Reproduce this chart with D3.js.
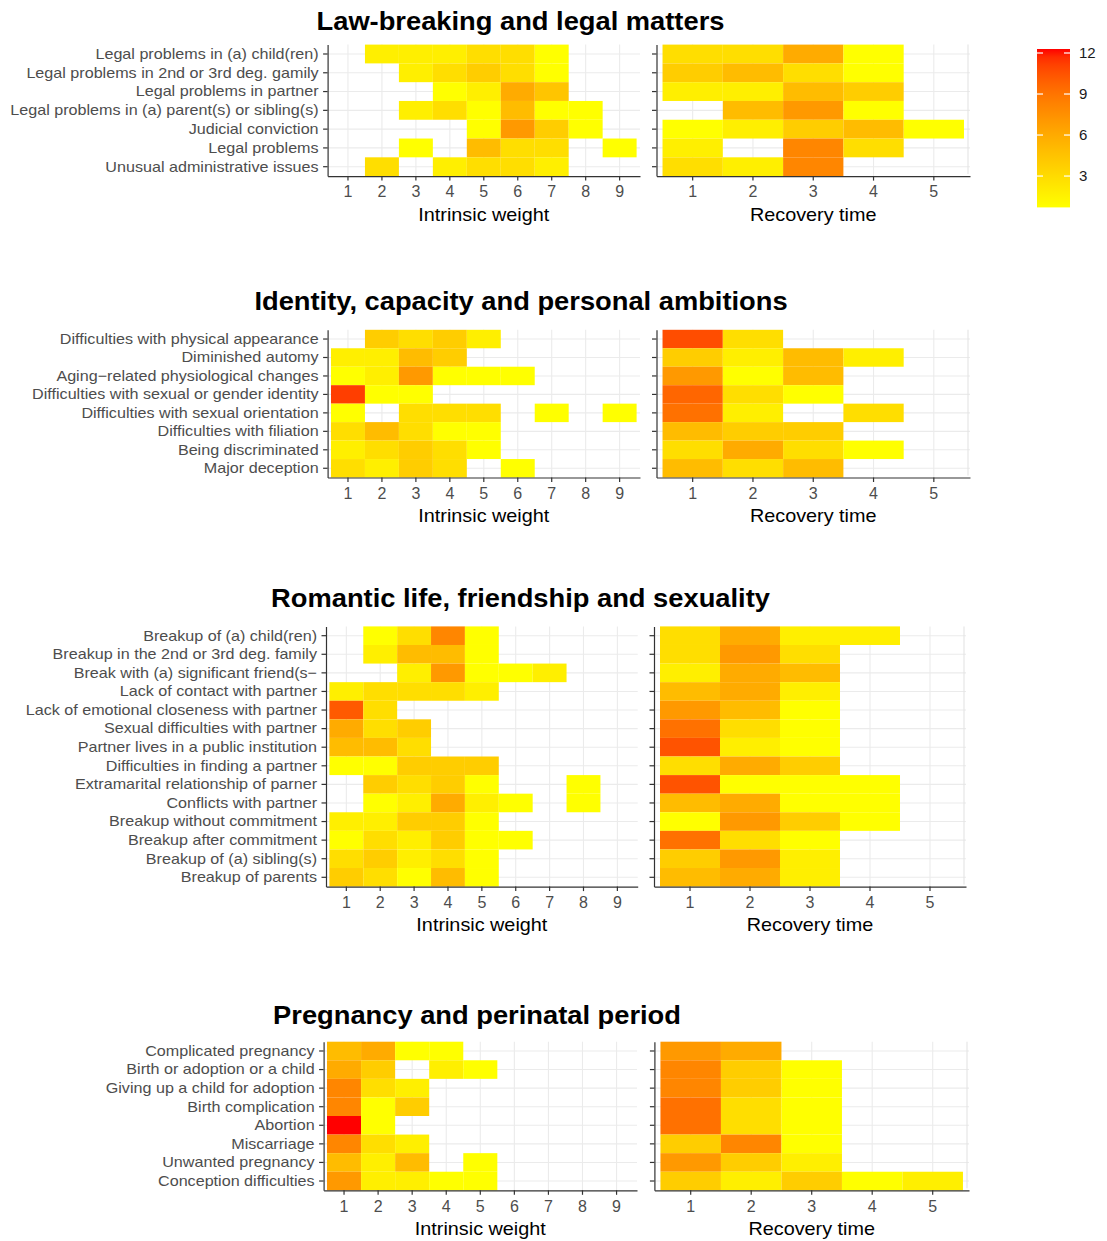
<!DOCTYPE html>
<html>
<head>
<meta charset="utf-8">
<script src="https://cdn.jsdelivr.net/npm/d3@7"></script>
<style>
  body { margin: 0; background: #fff; }
  svg { display: block; font-family: "Liberation Sans", Arial, Helvetica, sans-serif; }
</style>
</head>
<body>
<div id="chart"></div>
<script>
// tick labels
var intrinsicTicks = [1, 2, 3, 4, 5, 6, 7, 8, 9];
var recoveryTicks = [1, 2, 3, 4, 5];
var legendTicks = [3, 6, 9, 12];
var fillRange = [1, 12];

// Law-breaking and legal matters
var lawTitle = "Law-breaking and legal matters";
var lawLabels = [
  "Legal problems in (a) child(ren)",
  "Legal problems in 2nd or 3rd deg. gamily",
  "Legal problems in partner ",
  "Legal problems in (a) parent(s) or sibling(s) ",
  "Judicial conviction",
  "Legal problems",
  "Unusual administrative issues"
];
var lawIntrinsic = [
  [null, 2, 2, 2, 3, 3, 1, null, null],
  [null, null, 2, 3, 4, 3, 1, null, null],
  [null, null, null, 1, 2, 6, 4.5, null, null],
  [null, null, 2, 3, 1, 5, 1, 1, null],
  [null, null, null, null, 1, 7, 4, 1, null],
  [null, null, 1, null, 5, 3, 3, null, 1],
  [null, 3, null, 2, 3, 3, 2, null, null]
];
var lawRecovery = [
  [3, 3, 6, 1, null],
  [4, 5, 3, 1, null],
  [2, 2, 5, 4, null],
  [null, 5, 7, 1, null],
  [1, 2, 4, 5, 1],
  [2, null, 8, 3, null],
  [3, 2, 8, null, null]
];

// Identity, capacity and personal ambitions
var identityTitle = "Identity, capacity and personal ambitions";
var identityLabels = [
  "Difficulties with physical appearance",
  "Diminished automy ",
  "Aging\u2212related physiological changes",
  "Difficulties with sexual or gender identity",
  "Difficulties with sexual orientation",
  "Difficulties with filiation",
  "Being discriminated",
  "Major deception"
];
var identityIntrinsic = [
  [null, 4, 3, 4, 2, null, null, null, null],
  [2, 2, 5, 4, null, null, null, null, null],
  [1, 2, 7, 1, 1, 1, null, null, null],
  [11, 1, 1, null, null, null, null, null, null],
  [1, null, 3, 3, 3, null, 1, null, 1],
  [3, 5, 3, 1, 1, null, null, null, null],
  [2, 3, 4, 3, 1, null, null, null, null],
  [3, 2, 4, 3, null, 1, null, null, null]
];
var identityRecovery = [
  [10.5, 3, null, null, null],
  [4, 2, 5, 2, null],
  [7, 1, 5, null, null],
  [9.5, 3, 1, null, null],
  [9, 2, null, 3, null],
  [5, 4, 4, null, null],
  [3, 6, 3, 1, null],
  [5, 3, 5, null, null]
];

// Romantic life, friendship and sexuality
var romanticTitle = "Romantic life, friendship and sexuality";
var romanticLabels = [
  "Breakup of (a) child(ren)",
  "Breakup in the 2nd or 3rd deg. family",
  "Break with (a) significant friend(s\u2212",
  "Lack of contact with partner",
  "Lack of emotional closeness with partner",
  "Sexual difficulties with partner",
  "Partner lives in a public institution",
  "Difficulties in finding a partner",
  "Extramarital relationship of parner",
  "Conflicts with partner",
  "Breakup without commitment",
  "Breakup after commitment",
  "Breakup of (a) sibling(s)",
  "Breakup of parents"
];
var romanticIntrinsic = [
  [null, 1, 3, 8, 1, null, null, null, null],
  [null, 2, 5, 5, 1, null, null, null, null],
  [null, null, 2, 7, 1, 1, 2, null, null],
  [2, 3, 3, 3, 2, null, null, null, null],
  [10, 3, null, null, null, null, null, null, null],
  [6, 3, 4, null, null, null, null, null, null],
  [5, 5, 3, null, null, null, null, null, null],
  [1, 1, 4, 4, 4, null, null, null, null],
  [null, 4, 3, 4, 1, null, null, 1, null],
  [null, 1, 2, 6, 2, 1, null, 1, null],
  [2, 2, 4, 4, 1, null, null, null, null],
  [1, 3, 2, 4, 1, 1, null, null, null],
  [3, 4, 2, 3, 1, null, null, null, null],
  [4, 3, 1, 5, 1, null, null, null, null]
];
var romanticRecovery = [
  [3, 6, 2, 2, null],
  [3, 7, 3, null, null],
  [2, 6, 5, null, null],
  [5, 6, 2, null, null],
  [7, 5, 1, null, null],
  [9, 3, 1, null, null],
  [10.3, 2, 1, null, null],
  [3, 6, 4, null, null],
  [10.3, 1, 1, 1, null],
  [5, 6, 1, 1, null],
  [1, 7, 4, 1, null],
  [9, 3, 1, null, null],
  [4, 7, 2, null, null],
  [5, 6, 2, null, null]
];

// Pregnancy and perinatal period
var pregnancyTitle = "Pregnancy and perinatal period";
var pregnancyLabels = [
  "Complicated pregnancy",
  "Birth or adoption or a child",
  "Giving up a child for adoption",
  "Birth complication",
  "Abortion",
  "Miscarriage",
  "Unwanted pregnancy",
  "Conception difficulties"
];
var pregnancyIntrinsic = [
  [5, 6, 1, 1, null, null, null, null, null],
  [6, 4, null, 2, 1, null, null, null, null],
  [8, 3, 2, null, null, null, null, null, null],
  [8, 1, 4, null, null, null, null, null, null],
  [12, 1, null, null, null, null, null, null, null],
  [8, 3, 2, null, null, null, null, null, null],
  [5, 2, 5, null, 1, null, null, null, null],
  [7, 2, 2, 1, 1, null, null, null, null]
];
var pregnancyRecovery = [
  [7, 6, null, null, null],
  [8, 4, 1, null, null],
  [8, 4, 1, null, null],
  [9, 3, 1, null, null],
  [9, 3, 1, null, null],
  [4, 8, 1, null, null],
  [7, 4, 2, null, null],
  [4, 2, 4, 1, 2]
];

// layout of the four blocks (pixels)
var sections = [
  {title: lawTitle, labels: lawLabels, left: lawIntrinsic, right: lawRecovery,
   titleX: 520.5, titleY: 29.5, top: 44.6, bottom: 176.1,
   lx: [327.6, 640], rx: [656.5, 970]},
  {title: identityTitle, labels: identityLabels, left: identityIntrinsic, right: identityRecovery,
   titleX: 521, titleY: 310, top: 329.8, bottom: 477.5,
   lx: [327.6, 640], rx: [656.5, 970]},
  {title: romanticTitle, labels: romanticLabels, left: romanticIntrinsic, right: romanticRecovery,
   titleX: 520.5, titleY: 607, top: 626.4, bottom: 886.6,
   lx: [326, 637.7], rx: [654, 966]},
  {title: pregnancyTitle, labels: pregnancyLabels, left: pregnancyIntrinsic, right: pregnancyRecovery,
   titleX: 477, titleY: 1024, top: 1041.7, bottom: 1190.3,
   lx: [323.6, 637], rx: [654.4, 969]}
];

var width = 1107, height = 1241;

var color = d3.scaleLinear()
  .domain(fillRange)
  .range(["yellow", "red"])
  .interpolate(d3.interpolateLab);

var svg = d3.select("#chart").append("svg")
  .attr("width", width)
  .attr("height", height);

// the original fonts run a bit wider than Liberation Sans
function stretch(sel, k) {
  sel.each(function() {
    var len = this.getComputedTextLength();
    if (len > 0) {
      d3.select(this)
        .attr("textLength", len * k)
        .attr("lengthAdjust", "spacingAndGlyphs");
    }
  });
}

function drawPanel(g, s, values, ticks, xr, showLabels, axisTitle, edgeLine) {
  var y = d3.scaleBand().domain(s.labels).range([s.top, s.bottom]).padding(0);
  var x = d3.scaleBand().domain(ticks).range(xr).paddingInner(0).paddingOuter(0.1);

  // grid
  g.append("g").selectAll("line.h")
    .data(s.labels).enter().append("line")
    .attr("x1", xr[0]).attr("x2", xr[1])
    .attr("y1", function(d) { return y(d) + y.bandwidth() / 2; })
    .attr("y2", function(d) { return y(d) + y.bandwidth() / 2; })
    .attr("stroke", "#EBEBEB").attr("stroke-width", 1.1);
  g.append("g").selectAll("line.v")
    .data(ticks).enter().append("line")
    .attr("y1", s.top).attr("y2", s.bottom)
    .attr("x1", function(d) { return x(d) + x.bandwidth() / 2; })
    .attr("x2", function(d) { return x(d) + x.bandwidth() / 2; })
    .attr("stroke", "#EBEBEB").attr("stroke-width", 1.1);
  if (edgeLine) {
    g.append("line")
      .attr("x1", xr[1] - 2).attr("x2", xr[1] - 2)
      .attr("y1", s.top).attr("y2", s.bottom - 2)
      .attr("stroke", "#E3E3E3").attr("stroke-width", 1.1);
  }

  // tiles
  var cells = [];
  values.forEach(function(row, i) {
    row.forEach(function(v, j) {
      if (v != null) cells.push({row: s.labels[i], col: ticks[j], value: v});
    });
  });
  g.append("g").selectAll("rect")
    .data(cells).enter().append("rect")
    .attr("x", function(d) { return x(d.col); })
    .attr("y", function(d) { return y(d.row); })
    .attr("width", x.bandwidth())
    .attr("height", y.bandwidth())
    .attr("fill", function(d) { return color(d.value); });

  // axes
  var ya = g.append("g")
    .attr("transform", "translate(" + xr[0] + ",0)")
    .call(d3.axisLeft(y).tickSize(4.5).tickSizeOuter(0).tickPadding(4.5)
      .tickFormat(showLabels ? null : function() { return ""; }));
  ya.selectAll("text")
    .attr("fill", "#4D4D4D")
    .style("font-size", "15px")
    .style("font-family", "'Liberation Sans', Arial, Helvetica, sans-serif");
  if (showLabels) stretch(ya.selectAll("text"), 1.075);

  var xa = g.append("g")
    .attr("transform", "translate(0," + s.bottom + ")")
    .call(d3.axisBottom(x).tickSize(4.5).tickSizeOuter(0).tickPadding(5.5));
  xa.selectAll("text")
    .attr("fill", "#4D4D4D")
    .style("font-size", "16px")
    .style("font-family", "'Liberation Sans', Arial, Helvetica, sans-serif");

  [ya, xa].forEach(function(a) {
    a.select(".domain").attr("stroke", "#333").attr("stroke-width", 1.2);
    a.selectAll(".tick line").attr("stroke", "#333").attr("stroke-width", 1.2);
  });

  var t = g.append("text")
    .attr("x", (xr[0] + xr[1]) / 2)
    .attr("y", s.bottom + 44.5)
    .attr("text-anchor", "middle")
    .attr("fill", "#000")
    .style("font-size", "18.5px")
    .text(axisTitle);
  stretch(t, 1.07);
}

sections.forEach(function(s) {
  var g = svg.append("g");
  var t = g.append("text")
    .attr("x", s.titleX)
    .attr("y", s.titleY)
    .attr("text-anchor", "middle")
    .attr("fill", "#000")
    .style("font-size", "25.5px")
    .style("font-weight", "bold")
    .text(s.title);
  stretch(t, 1.07);
  drawPanel(g, s, s.left, intrinsicTicks, s.lx, true, "Intrinsic weight", false);
  drawPanel(g, s, s.right, recoveryTicks, s.rx, false, "Recovery time", true);
});

// colour bar
var barX = 1037, barW = 33;
var ly = d3.scaleLinear().domain(fillRange).range([203.4, 53]);
var defs = svg.append("defs");
var grad = defs.append("linearGradient")
  .attr("id", "fillbar")
  .attr("x1", 0).attr("x2", 0).attr("y1", 1).attr("y2", 0);
d3.range(0, 1.0001, 0.05).forEach(function(t) {
  grad.append("stop")
    .attr("offset", t)
    .attr("stop-color", color(fillRange[0] + t * (fillRange[1] - fillRange[0])));
});
var barTop = ly(fillRange[1]) - 4, barBottom = ly(fillRange[0]) + 4;
svg.append("rect")
  .attr("x", barX).attr("y", barTop)
  .attr("width", barW).attr("height", barBottom - barTop)
  .attr("fill", "url(#fillbar)");

var lg = svg.append("g").selectAll("g")
  .data(legendTicks).enter().append("g");
lg.append("line")
  .attr("x1", barX).attr("x2", barX + 6)
  .attr("y1", function(d) { return ly(d); }).attr("y2", function(d) { return ly(d); })
  .attr("stroke", "#fff").attr("stroke-width", 1.2);
lg.append("line")
  .attr("x1", barX + barW - 6).attr("x2", barX + barW)
  .attr("y1", function(d) { return ly(d); }).attr("y2", function(d) { return ly(d); })
  .attr("stroke", "#fff").attr("stroke-width", 1.2);
lg.append("text")
  .attr("x", 1079)
  .attr("y", function(d) { return ly(d); })
  .attr("dy", "0.36em")
  .attr("fill", "#1a1a1a")
  .style("font-size", "15px")
  .text(function(d) { return d; });
</script>
</body>
</html>
